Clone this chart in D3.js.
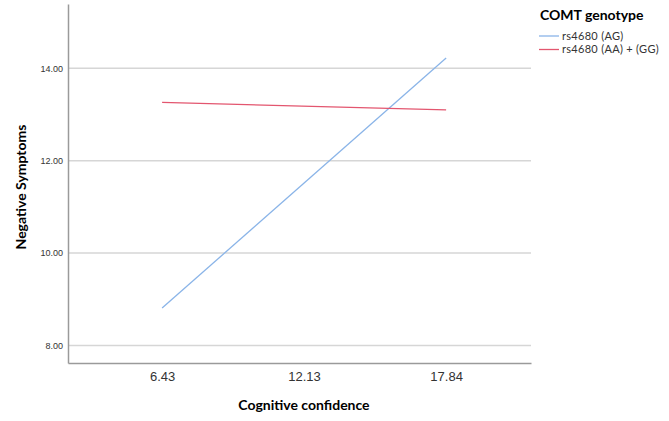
<!DOCTYPE html>
<html>
<head>
<meta charset="utf-8">
<script src="https://cdn.jsdelivr.net/npm/d3@7"></script>
<style>
  body { margin: 0; background: #fff; }
  svg { display: block; }
</style>
</head>
<body>
<script>
// chart values
const confidence = [6.43, 12.13, 17.84];
const lineX = [6.43, 17.84];
const seriesNames = ["rs4680 (AG)", "rs4680 (AA) + (GG)"];
const agValues = [8.81, 14.22];
const aaggValues = [13.26, 13.10];
const yTicks = [8, 10, 12, 14];

const width = 669, height = 421;
const margin = {left: 68, right: 138, top: 4, bottom: 58};
const colors = ["#8ab4e8", "#e3566f"];

const svg = d3.select("body")
    .append("svg")
    .attr("width", width)
    .attr("height", height);

const x = d3.scaleLinear()
    .domain([2.65, 21.25])
    .range([margin.left, width - margin.right]);

const y = d3.scaleLinear()
    .domain([7.62, 15.39])
    .range([height - margin.bottom, margin.top]);

// gridlines
svg.append("g")
    .selectAll("line")
    .data(yTicks)
    .enter()
    .append("line")
    .attr("x1", margin.left)
    .attr("x2", width - margin.right)
    .attr("y1", d => y(d))
    .attr("y2", d => y(d))
    .attr("stroke", "#d6d6d6")
    .attr("stroke-width", 1.5);

// y axis
const yAxis = svg.append("g")
    .attr("transform", `translate(${margin.left},0)`)
    .call(d3.axisLeft(y).tickValues(yTicks).tickSize(0).tickPadding(5).tickFormat(d3.format(".2f")));
yAxis.select(".domain").attr("stroke", "#9a9a9a").attr("stroke-width", 1.5);
yAxis.selectAll("text")
    .attr("font-family", "Liberation Sans, Arial, sans-serif")
    .attr("font-size", 9)
    .attr("fill", "#333");

// x axis
const xAxis = svg.append("g")
    .attr("transform", `translate(0,${height - margin.bottom})`)
    .call(d3.axisBottom(x).tickValues(confidence).tickSize(0).tickPadding(9).tickFormat(d3.format(".2f")));
xAxis.select(".domain").attr("stroke", "#9a9a9a").attr("stroke-width", 1.5);
xAxis.selectAll("text")
    .attr("font-family", "Liberation Sans, Arial, sans-serif")
    .attr("font-size", 13)
    .attr("fill", "#333");

// lines
const line = d3.line()
    .x(d => x(d[0]))
    .y(d => y(d[1]));

[agValues, aaggValues].forEach((vals, i) => {
    svg.append("path")
        .datum(d3.zip(lineX, vals))
        .attr("fill", "none")
        .attr("stroke", colors[i])
        .attr("stroke-width", 1.3)
        .attr("d", line);
});

// axis titles
svg.append("text")
    .attr("x", x(12.13))
    .attr("y", 410)
    .attr("text-anchor", "middle")
    .attr("font-family", "Lato, sans-serif")
    .attr("font-weight", "bold")
    .attr("font-size", 14)
    .text("Cognitive confidence");

svg.append("text")
    .attr("transform", "translate(26,187) rotate(-90)")
    .attr("text-anchor", "middle")
    .attr("font-family", "Lato, sans-serif")
    .attr("font-weight", "bold")
    .attr("font-size", 14)
    .text("Negative Symptoms");

// legend
const legend = svg.append("g").attr("transform", "translate(539,0)");
legend.append("text")
    .attr("x", 1)
    .attr("y", 20)
    .attr("font-family", "Lato, sans-serif")
    .attr("font-weight", "bold")
    .attr("font-size", 14)
    .text("COMT genotype");

const item = legend.selectAll(".item")
    .data(seriesNames)
    .enter()
    .append("g")
    .attr("class", "item")
    .attr("transform", (d, i) => `translate(0,${36 + i * 13.5})`);
item.append("line")
    .attr("x1", 0)
    .attr("x2", 20)
    .attr("stroke", (d, i) => colors[i])
    .attr("stroke-width", 1.3);
item.append("text")
    .attr("x", 23)
    .attr("dy", "0.35em")
    .attr("font-family", "Lato, sans-serif")
    .attr("font-size", 11)
    .attr("letter-spacing", 0.3)
    .attr("fill", "#333")
    .text(d => d);
</script>
</body>
</html>
